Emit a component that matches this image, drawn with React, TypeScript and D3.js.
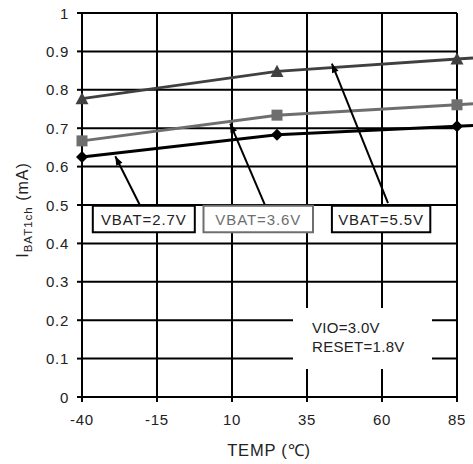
import React from "react";
import * as d3 from "d3";

const temps = [-40, 25, 85];
const vbat55 = [0.777, 0.848, 0.88];
const vbat36 = [0.667, 0.734, 0.761];
const vbat27 = [0.625, 0.683, 0.705];
const xTicks = [-40, -15, 10, 35, 60, 85];
const yTicks = [0, 0.1, 0.2, 0.3, 0.4, 0.5, 0.6, 0.7, 0.8, 0.9, 1];
const seriesLabels = ["VBAT=2.7V", "VBAT=3.6V", "VBAT=5.5V"];
const noteLines = ["VIO=3.0V", "RESET=1.8V"];

const W = 473;
const H = 464;
const L = 82, R = 457, T = 13, B = 397;
const FONT = "'Liberation Sans', Arial, sans-serif";

export default function App() {
  const x = d3.scaleLinear().domain([-40, 85]).range([L, R]);
  const y = d3.scaleLinear().domain([0, 1]).range([B, T]);
  const line = d3
    .line<[number, number]>()
    .x((d) => d[0])
    .y((d) => d[1]);

  const series = [
    { vals: vbat27, color: "#000000", marker: "diamond" },
    { vals: vbat36, color: "#6e6e6e", marker: "square" },
    { vals: vbat55, color: "#404040", marker: "triangle" },
  ];

  const boxes = [
    { x0: -36.4, x1: -2.4, tail: [-20.6, 0.498], tip: [-28.9, 0.627], color: "#000", text: "#222" },
    { x0: 0.5, x1: 37, tail: [21.1, 0.498], tip: [9.4, 0.712], color: "#6e6e6e", text: "#6e6e6e" },
    { x0: 43.3, x1: 76.1, tail: [62, 0.505], tip: [43.3, 0.868], color: "#000", text: "#222" },
  ];

  const markerPath = (m: string, cx: number, cy: number) => {
    if (m === "diamond") {
      const s = 6;
      return `M${cx},${cy - s}L${cx + s},${cy}L${cx},${cy + s}L${cx - s},${cy}Z`;
    }
    if (m === "square") {
      const s = 5.5;
      return `M${cx - s},${cy - s}H${cx + s}V${cy + s}H${cx - s}Z`;
    }
    const s = 6.5;
    return `M${cx},${cy - s}L${cx + s},${cy + s * 0.85}L${cx - s},${cy + s * 0.85}Z`;
  };

  const arrowHead = (x1: number, y1: number, x2: number, y2: number) => {
    const ang = Math.atan2(y2 - y1, x2 - x1);
    const len = 9, w = 3.5;
    const bx = x2 - len * Math.cos(ang);
    const by = y2 - len * Math.sin(ang);
    const px = -Math.sin(ang) * w, py = Math.cos(ang) * w;
    return `M${x2},${y2}L${bx + px},${by + py}L${bx - px},${by - py}Z`;
  };

  return (
    <svg
      width={W}
      height={H}
      style={{ position: "absolute", left: 0, top: 0, background: "#fff" }}
      fontFamily={FONT}
    >
      {yTicks.map((t) => (
        <line key={"h" + t} x1={L} x2={R} y1={y(t)} y2={y(t)} stroke="#000" strokeWidth={2} />
      ))}
      {xTicks.map((t) => (
        <line key={"v" + t} x1={x(t)} x2={x(t)} y1={T} y2={B} stroke="#000" strokeWidth={2} />
      ))}
      {yTicks.map((t) => (
        <line key={"yt" + t} x1={L - 5} x2={L} y1={y(t)} y2={y(t)} stroke="#000" strokeWidth={2} />
      ))}
      {xTicks.map((t) => (
        <line key={"xt" + t} x1={x(t)} x2={x(t)} y1={B} y2={B + 5} stroke="#000" strokeWidth={2} />
      ))}
      <rect x={293} y={308} width={139} height={61} fill="#fff" />
      {noteLines.map((s, i) => (
        <text key={s} x={312} y={333 + i * 19} fontSize={15} letterSpacing={0.3} fill="#222">
          {s}
        </text>
      ))}
      {series.map((s, i) => {
        const pts = temps.map((t, j) => [x(t), y(s.vals[j])] as [number, number]);
        const n = pts.length;
        const [ax, ay] = pts[n - 2];
        const [bx, by] = pts[n - 1];
        const ext: [number, number] = [W, by + ((W - bx) * (by - ay)) / (bx - ax)];
        return (
          <g key={i}>
            <path d={line([...pts, ext]) || ""} fill="none" stroke={s.color} strokeWidth={3} />
            {pts.map((p, j) => (
              <path key={j} d={markerPath(s.marker, p[0], p[1])} fill={s.color} />
            ))}
          </g>
        );
      })}
      {boxes.map((b, i) => {
        const tx = x(b.tail[0]), ty = y(b.tail[1]);
        const hx = x(b.tip[0]), hy = y(b.tip[1]);
        return (
          <g key={i}>
            <line x1={tx} y1={ty} x2={hx} y2={hy} stroke="#000" strokeWidth={2} />
            <path d={arrowHead(tx, ty, hx, hy)} fill="#000" />
            <rect
              x={x(b.x0)}
              y={y(0.498)}
              width={x(b.x1) - x(b.x0)}
              height={y(0.429) - y(0.498)}
              fill="#fff"
              stroke={b.color}
              strokeWidth={2}
            />
            <text
              x={(x(b.x0) + x(b.x1)) / 2}
              y={y(0.4635) + 5.5}
              textAnchor="middle"
              fontSize={15}
              letterSpacing={0.9}
              fill={b.text}
            >
              {seriesLabels[i]}
            </text>
          </g>
        );
      })}
      {yTicks.map((t) => (
        <text key={"yl" + t} x={69} y={y(t) + 5.5} textAnchor="end" fontSize={15} letterSpacing={0.7} fill="#222">
          {d3.format("")(t)}
        </text>
      ))}
      {xTicks.map((t) => (
        <text key={"xl" + t} x={x(t)} y={425} textAnchor="middle" fontSize={15} letterSpacing={0.7} fill="#222">
          {t}
        </text>
      ))}
      <text x={269} y={456} textAnchor="middle" fontSize={16.5} letterSpacing={0.8} fill="#222">
        TEMP (℃)
      </text>
      <text
        transform={`translate(27.5,210) rotate(-90)`}
        textAnchor="middle"
        fontSize={16}
        letterSpacing={1}
        fill="#222"
      >
        I<tspan fontSize={11.5} dy={4}>BAT1ch</tspan>
        <tspan dy={-4}> (mA)</tspan>
      </text>
    </svg>
  );
}
